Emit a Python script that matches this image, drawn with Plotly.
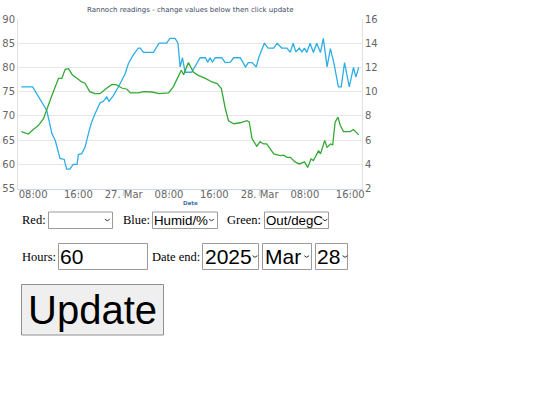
import plotly.graph_objects as go

# ---------------- data ----------------
humid_times = [
    "2025-03-26 05:55", "2025-03-26 07:55", "2025-03-26 10:25", "2025-03-26 11:20", "2025-03-26 11:55",
    "2025-03-26 12:45", "2025-03-26 13:30", "2025-03-26 13:55", "2025-03-26 14:30", "2025-03-26 15:05",
    "2025-03-26 15:45", "2025-03-26 16:00", "2025-03-26 16:35", "2025-03-26 17:10", "2025-03-26 17:55",
    "2025-03-26 18:20", "2025-03-26 18:55", "2025-03-26 19:50", "2025-03-26 20:25", "2025-03-26 21:00",
    "2025-03-26 21:25", "2025-03-26 22:10", "2025-03-26 23:05", "2025-03-27 00:15", "2025-03-27 00:50",
    "2025-03-27 01:45", "2025-03-27 02:35", "2025-03-27 02:55", "2025-03-27 03:30", "2025-03-27 05:15",
    "2025-03-27 06:15", "2025-03-27 07:35", "2025-03-27 08:10", "2025-03-27 09:05", "2025-03-27 09:35",
    "2025-03-27 09:58", "2025-03-27 10:23", "2025-03-27 10:50", "2025-03-27 12:00", "2025-03-27 12:30",
    "2025-03-27 13:30", "2025-03-27 14:25", "2025-03-27 14:50", "2025-03-27 15:15", "2025-03-27 15:40",
    "2025-03-27 16:10", "2025-03-27 17:20", "2025-03-27 17:55", "2025-03-27 18:50", "2025-03-27 19:25",
    "2025-03-27 20:35", "2025-03-27 21:30", "2025-03-27 22:00", "2025-03-27 22:40", "2025-03-27 23:25",
    "2025-03-27 23:50", "2025-03-28 00:50", "2025-03-28 01:30", "2025-03-28 02:30", "2025-03-28 03:05",
    "2025-03-28 03:55", "2025-03-28 04:50", "2025-03-28 05:25", "2025-03-28 05:55", "2025-03-28 06:25",
    "2025-03-28 07:00", "2025-03-28 07:30", "2025-03-28 07:55", "2025-03-28 08:20", "2025-03-28 08:55",
    "2025-03-28 09:30", "2025-03-28 10:05", "2025-03-28 10:45", "2025-03-28 11:15", "2025-03-28 11:55",
    "2025-03-28 12:30", "2025-03-28 13:05", "2025-03-28 13:55", "2025-03-28 14:25", "2025-03-28 15:00",
    "2025-03-28 15:50", "2025-03-28 16:35", "2025-03-28 17:00", "2025-03-28 17:30",
]
humid_values = [
    76, 76, 71.1, 66.3, 64.9,
    61.2, 61, 59, 59, 60,
    60, 62, 62.2, 63.5, 67,
    68.7, 70.4, 72.7, 73, 73.9,
    73, 74.2, 76, 78.7, 80.8,
    82.7, 84, 84, 83.1, 83.1,
    85, 85, 86, 86, 85,
    80.1, 82, 79, 79, 80,
    82, 82, 81.1, 82, 81.1,
    82, 82, 81, 81.1, 82,
    82, 80.1, 81, 81, 80.1,
    82, 85, 84, 84, 85,
    84, 84, 83.1, 85, 83.2,
    84, 83.2, 84, 83.1, 85,
    83.1, 85, 83.1, 86, 80.1,
    83.9, 81.1, 76, 76, 81,
    76, 80, 78, 80,
]

out_times = [
    "2025-03-26 05:55", "2025-03-26 07:10", "2025-03-26 08:05", "2025-03-26 08:55", "2025-03-26 09:50",
    "2025-03-26 10:25", "2025-03-26 11:20", "2025-03-26 11:55", "2025-03-26 12:30", "2025-03-26 13:05",
    "2025-03-26 13:40", "2025-03-26 14:15", "2025-03-26 14:55", "2025-03-26 15:45", "2025-03-26 16:35",
    "2025-03-26 17:10", "2025-03-26 18:00", "2025-03-26 18:55", "2025-03-26 19:50", "2025-03-26 20:45",
    "2025-03-26 21:55", "2025-03-26 22:45", "2025-03-26 23:40", "2025-03-27 00:35", "2025-03-27 01:10",
    "2025-03-27 02:35", "2025-03-27 03:30", "2025-03-27 05:00", "2025-03-27 06:15", "2025-03-27 07:55",
    "2025-03-27 08:45", "2025-03-27 09:35", "2025-03-27 10:10", "2025-03-27 10:35", "2025-03-27 11:25",
    "2025-03-27 12:20", "2025-03-27 13:10", "2025-03-27 14:25", "2025-03-27 15:35", "2025-03-27 16:30",
    "2025-03-27 17:15", "2025-03-27 17:55", "2025-03-27 18:30", "2025-03-27 19:25", "2025-03-27 20:35",
    "2025-03-27 21:45", "2025-03-27 22:10", "2025-03-27 22:40", "2025-03-27 23:30", "2025-03-28 00:05",
    "2025-03-28 00:40", "2025-03-28 01:15", "2025-03-28 02:30", "2025-03-28 03:40", "2025-03-28 04:15",
    "2025-03-28 04:50", "2025-03-28 05:25", "2025-03-28 06:15", "2025-03-28 07:00", "2025-03-28 07:55",
    "2025-03-28 08:30", "2025-03-28 09:05", "2025-03-28 09:30", "2025-03-28 10:25", "2025-03-28 10:45",
    "2025-03-28 11:30", "2025-03-28 11:55", "2025-03-28 12:30", "2025-03-28 12:55", "2025-03-28 13:20",
    "2025-03-28 13:50", "2025-03-28 14:15", "2025-03-28 14:50", "2025-03-28 16:00", "2025-03-28 16:35",
    "2025-03-28 17:30",
]
out_values = [
    6.7, 6.5, 6.9, 7.2, 7.76,
    8.45, 9.7, 10.4, 11.1, 11.1,
    11.85, 11.9, 11.4, 11.1, 10.8,
    10.7, 10.0, 9.83, 9.83, 10.2,
    10.6, 10.55, 10.3, 10.2, 9.9,
    9.9, 10.0, 9.97, 9.83, 9.9,
    10.4, 11.2, 11.77, 11.4, 12.4,
    11.6, 11.35, 11.1, 10.8, 10.66,
    10.25, 8.65, 7.6, 7.35, 7.43,
    7.6, 7.5, 6.1, 5.49, 5.87,
    5.68, 5.68, 4.86, 4.71, 4.75,
    4.57, 4.57, 4.2, 4.03, 4.2,
    3.74, 4.44, 4.3, 5.13, 4.86,
    5.96, 5.4, 5.68, 5.6, 7.48,
    7.9, 7.2, 6.7, 6.7, 6.87,
    6.43,
]

x_tick_values = [
    "2025-03-26 08:00", "2025-03-26 16:00", "2025-03-27 00:00", "2025-03-27 08:00",
    "2025-03-27 16:00", "2025-03-28 00:00", "2025-03-28 08:00", "2025-03-28 16:00",
]
x_tick_labels = ["08:00", "16:00", "27. Mar", "08:00", "16:00", "28. Mar", "08:00", "16:00"]

chart_title = "Rannoch readings - change values below then click update"
x_title = "Date"

# ---------------- layout helpers ----------------
W, H = 540, 405


def fx(p):
    return p / W


def fy(p):
    return 1 - p / H


TICK_FONT = dict(family="DejaVu Sans, Verdana, sans-serif", size=10, color="#666666")

fig = go.Figure()
fig.add_trace(go.Scatter(x=humid_times, y=humid_values, mode="lines",
                         line=dict(color="#2daee6", width=1.3), yaxis="y", name="Humid/%"))
fig.add_trace(go.Scatter(x=out_times, y=out_values, mode="lines",
                         line=dict(color="#35a935", width=1.3), yaxis="y2", name="Out/degC"))

shapes = []
annotations = []

# title and axis title
annotations.append(dict(text=chart_title, x=fx(190), y=fy(10.5), xref="paper", yref="paper",
                        showarrow=False, xanchor="center", yanchor="middle",
                        font=dict(family="DejaVu Sans, Verdana, sans-serif", size=7, color="#3d4b63")))
annotations.append(dict(text="<b>" + x_title + "</b>", x=fx(190), y=fy(203), xref="paper", yref="paper",
                        showarrow=False, xanchor="center", yanchor="middle",
                        font=dict(family="DejaVu Sans, Verdana, sans-serif", size=5.5, color="#3f72b0")))

SERIF = dict(family="Liberation Serif, Times New Roman, serif", size=12.5, color="#000000")
SANS = "Liberation Sans, Arial, sans-serif"
BOX_LINE = dict(color="#9a9a9a", width=1)


def label(text, left, cy, font):
    annotations.append(dict(text=text, x=fx(left), y=fy(cy), xref="paper", yref="paper",
                            showarrow=False, xanchor="left", yanchor="middle", font=font,
                            borderpad=0, xshift=-1))


def box(x0, y0, x1, y1, fill="#ffffff", line=BOX_LINE):
    shapes.append(dict(type="rect", xref="paper", yref="paper", x0=fx(x0), x1=fx(x1),
                       y0=fy(y1), y1=fy(y0), fillcolor=fill, line=line, layer="above"))


def chevron(cx, cy, w=2.4, h=1.6):
    path = "M {} {} L {} {} L {} {}".format(fx(cx - w), fy(cy - h / 2), fx(cx), fy(cy + h / 2),
                                            fx(cx + w), fy(cy - h / 2))
    shapes.append(dict(type="path", xref="paper", yref="paper", path=path,
                       line=dict(color="#333333", width=1), layer="above"))


# row 1 : colour selectors
r1 = 220
label("Red:", 21.7, r1, SERIF)
box(48.5, 212, 112.5, 228.5)
chevron(107.3, r1)
label("Blue:", 123.3, r1, SERIF)
box(152.5, 212, 217.5, 228.5)
label("Humid/%", 154, r1, dict(family=SANS, size=13.3, color="#000000"))
chevron(211.5, r1)
label("Green:", 226.7, r1, SERIF)
box(264.5, 212, 328.5, 228.5)
label("Out/degC", 266, r1, dict(family=SANS, size=13.3, color="#000000"))
chevron(325, r1)

# row 2 : hours / date end
r2 = 256.5
label("Hours:", 21.7, r2, SERIF)
box(58.5, 243.5, 147.5, 269.5)
label("60", 60, r2, dict(family=SANS, size=21, color="#000000"))
label("Date end:", 151.7, r2, SERIF)
box(202.5, 243.5, 258.5, 269.5)
label("2025", 205, r2, dict(family=SANS, size=21, color="#000000"))
chevron(255, r2)
box(262.5, 243.5, 311.5, 269.5)
label("Mar", 265, r2, dict(family=SANS, size=21, color="#000000"))
chevron(306.7, r2)
box(315.5, 243.5, 347.5, 269.5)
label("28", 316.7, r2, dict(family=SANS, size=21, color="#000000"))
chevron(345, r2)

# update button
box(21.5, 284.5, 163.5, 335, fill="#efefef", line=dict(color="#8f8f8f", width=1))
annotations.append(dict(text="Update", x=fx(92.5), y=fy(310), xref="paper", yref="paper",
                        showarrow=False, xanchor="center", yanchor="middle",
                        font=dict(family=SANS, size=40, color="#000000")))

fig.update_layout(
    width=W, height=H,
    margin=dict(l=0, r=0, t=0, b=0),
    paper_bgcolor="#ffffff", plot_bgcolor="#ffffff",
    showlegend=False,
    xaxis=dict(
        type="date", domain=[fx(18), fx(362)], automargin=False,
        range=["2025-03-26 05:20", "2025-03-28 18:05"],
        tickmode="array", tickvals=x_tick_values, ticktext=x_tick_labels,
        showgrid=False, zeroline=False,
        showline=True, linecolor="#ccd6eb", linewidth=1,
        ticks="outside", ticklen=6, tickcolor="#ccd6eb",
        ticklabelstandoff=-10,
        tickfont=TICK_FONT, anchor="y",
    ),
    yaxis=dict(
        domain=[fy(188.5), fy(19)], range=[55, 90], dtick=5, tick0=55, automargin=False,
        gridcolor="#e6e6e6", gridwidth=1, zeroline=False,
        showline=True, linecolor="#e0e0e0", linewidth=1,
        tickfont=TICK_FONT, ticks="",
    ),
    yaxis2=dict(
        overlaying="y", side="right", range=[2, 16], dtick=2, tick0=2, automargin=False,
        showgrid=False, zeroline=False,
        showline=True, linecolor="#e0e0e0", linewidth=1,
        tickfont=TICK_FONT, ticks="", anchor="x",
    ),
    shapes=shapes,
    annotations=annotations,
)

# the figure fills the page from its top-left corner
fig.write_html("out.html", config={"displayModeBar": False},
               post_script="document.body.style.margin='0px';")
